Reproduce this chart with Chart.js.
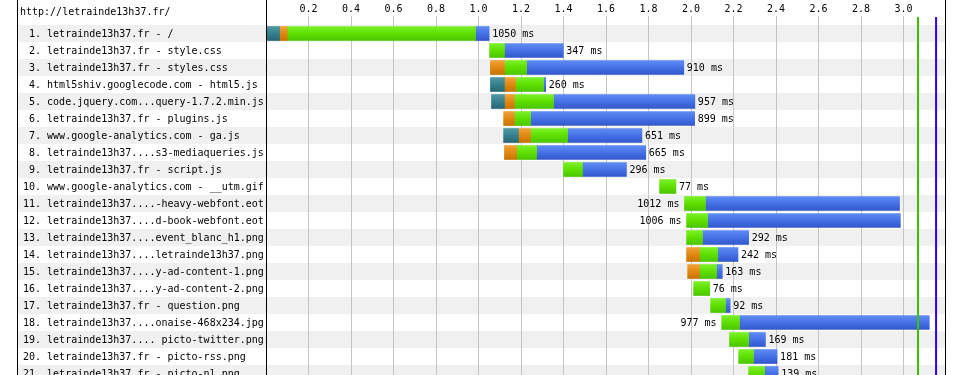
<!DOCTYPE html>
<html>
<head>
<meta charset="utf-8">
<script src="https://cdn.jsdelivr.net/npm/chart.js@4/dist/chart.umd.min.js"></script>
<style>
  html, body { margin: 0; padding: 0; background: #fff; overflow: hidden; }
  #wrap { width: 963px; height: 382px; }
</style>
</head>
<body>
<div id="wrap"><canvas id="waterfall" width="963" height="382"></canvas></div>
<script>
// page + requests
const pageUrl = 'http://letrainde13h37.fr/';
const requests = [
  'letrainde13h37.fr - /',
  'letrainde13h37.fr - style.css',
  'letrainde13h37.fr - styles.css',
  'html5shiv.googlecode.com - html5.js',
  'code.jquery.com...query-1.7.2.min.js',
  'letrainde13h37.fr - plugins.js',
  'www.google-analytics.com - ga.js',
  'letrainde13h37....s3-mediaqueries.js',
  'letrainde13h37.fr - script.js',
  'www.google-analytics.com - __utm.gif',
  'letrainde13h37....-heavy-webfont.eot',
  'letrainde13h37....d-book-webfont.eot',
  'letrainde13h37....event_blanc_h1.png',
  'letrainde13h37....letrainde13h37.png',
  'letrainde13h37....y-ad-content-1.png',
  'letrainde13h37....y-ad-content-2.png',
  'letrainde13h37.fr - question.png',
  'letrainde13h37....onaise-468x234.jpg',
  'letrainde13h37.... picto-twitter.png',
  'letrainde13h37.fr - picto-rss.png',
  'letrainde13h37.fr - picto-nl.png'
];

// phases in seconds, [start, end]
const dns = [
  [0, 0.064], null, null, [1.056, 1.122], [1.061, 1.122], null, [1.118, 1.188],
  null, null, null, null, null, null, null, null, null, null, null, null, null, null
];
const connect = [
  [0.064, 0.100], null, [1.056, 1.122], [1.122, 1.174], [1.122, 1.169], [1.118, 1.169], [1.188, 1.245],
  [1.122, 1.179], null, null, null, null, null, [1.979, 2.040], [1.984, 2.040], null, null, null, null, null, null
];
const ttfb = [
  [0.100, 0.986], [1.052, 1.122], [1.122, 1.226], [1.174, 1.306], [1.169, 1.353], [1.169, 1.245], [1.245, 1.419],
  [1.179, 1.273], [1.400, 1.489], [1.852, 1.929], [1.969, 2.068], [1.979, 2.078], [1.979, 2.054], [2.040, 2.125],
  [2.040, 2.120], [2.012, 2.088], [2.092, 2.162], [2.144, 2.228], [2.181, 2.271], [2.224, 2.294], [2.271, 2.346]
];
const download = [
  [0.986, 1.050], [1.122, 1.399], [1.226, 1.966], [1.306, 1.316], [1.353, 2.018], [1.245, 2.017], [1.419, 1.769],
  [1.273, 1.787], [1.489, 1.696], null, [2.068, 2.981], [2.078, 2.985], [2.054, 2.271], [2.125, 2.221],
  [2.120, 2.147], null, [2.162, 2.184], [2.228, 3.121], [2.271, 2.350], [2.294, 2.405], [2.346, 2.410]
];
const durations = [1050, 347, 910, 260, 957, 899, 651, 665, 296, 77, 1012, 1006, 292, 242, 163, 76, 92, 977, 169, 181, 139];

const startRender = 3.068;
const docComplete = 3.153;
const timeMax = 3.195;

const mono = 'DejaVu Sans Mono';
const rowLabels = requests.map((r, i) => String(i + 1).padStart(2, ' ') + '. ' + r);

function phaseFill(light, mid, dark) {
  return (c) => {
    const chart = c.chart;
    if (!chart.chartArea || !chart.scales.y) return mid;
    const yc = chart.scales.y.getPixelForValue(c.dataIndex);
    const g = chart.ctx.createLinearGradient(0, yc - 7, 0, yc + 7);
    g.addColorStop(0, light);
    g.addColorStop(0.5, mid);
    g.addColorStop(1, dark);
    return g;
  };
}

function phase(label, data, fill) {
  return {
    label: label,
    data: data,
    backgroundColor: fill,
    borderWidth: 0,
    barThickness: 14,
    grouped: false
  };
}

const frame = {
  id: 'frame',
  beforeDraw(chart) {
    const { ctx } = chart;
    const y = chart.scales.y;
    ctx.save();
    ctx.fillStyle = '#f0f0f0';
    rowLabels.forEach((_, i) => {
      if (i % 2 === 0) {
        const yc = y.getPixelForValue(i);
        ctx.fillRect(17, yc - 8.5, 945 - 17, 17);
      }
    });
    ctx.fillStyle = '#000';
    ctx.font = '10px ' + mono;
    ctx.textBaseline = 'middle';
    ctx.fillText(pageUrl, 20, 12);
    ctx.restore();
  },
  afterDatasetsDraw(chart) {
    const { ctx, chartArea } = chart;
    const x = chart.scales.x;
    const y = chart.scales.y;
    ctx.save();
    ctx.font = '10px ' + mono;
    ctx.fillStyle = '#000';
    ctx.textBaseline = 'middle';
    rowLabels.forEach((_, i) => {
      const parts = [dns[i], connect[i], ttfb[i], download[i]].filter(Boolean);
      const start = Math.min(...parts.map(p => p[0]));
      const end = Math.max(...parts.map(p => p[1]));
      const txt = durations[i] + ' ms';
      const w = ctx.measureText(txt).width;
      const yc = y.getPixelForValue(i) + 1;
      const tx = x.getPixelForValue(end) + 3;
      if (tx + w + 8 > chartArea.right) {
        ctx.textAlign = 'right';
        ctx.fillText(txt, x.getPixelForValue(start) - 5, yc);
      } else {
        ctx.textAlign = 'left';
        ctx.fillText(txt, tx, yc);
      }
    });
    // event markers
    ctx.lineWidth = 2;
    [[startRender, '#3cc000'], [docComplete, '#2a00ff']].forEach(([t, col]) => {
      const px = x.getPixelForValue(t);
      ctx.strokeStyle = col;
      ctx.beginPath();
      ctx.moveTo(px, 17);
      ctx.lineTo(px, chartArea.bottom);
      ctx.stroke();
    });
    // borders
    ctx.lineWidth = 1;
    ctx.strokeStyle = '#000';
    [17, 266, 945].forEach(bx => {
      ctx.beginPath();
      ctx.moveTo(bx + 0.5, 0);
      ctx.lineTo(bx + 0.5, chartArea.bottom);
      ctx.stroke();
    });
    ctx.restore();
  }
};

new Chart(document.getElementById('waterfall'), {
  type: 'bar',
  data: {
    labels: rowLabels,
    datasets: [
      phase('DNS', dns, phaseFill('#4f98a4', '#35808c', '#276873')),
      phase('Connect', connect, phaseFill('#f2a23a', '#e08812', '#c87400')),
      phase('TTFB', ttfb, phaseFill('#7cf02a', '#5de000', '#4cc600')),
      phase('Download', download, phaseFill('#5f8cf2', '#4571e6', '#3358cc'))
    ]
  },
  plugins: [frame],
  options: {
    indexAxis: 'y',
    responsive: false,
    animation: false,
    layout: { padding: { left: 23, right: 18, top: 0, bottom: 0 } },
    plugins: {
      legend: { display: false },
      tooltip: { enabled: false }
    },
    scales: {
      x: {
        position: 'top',
        min: 0,
        max: timeMax,
        afterFit(scale) {
          scale.height = 25;
          scale.paddingLeft = 0;
          scale.paddingRight = 0;
        },
        border: { display: false },
        grid: {
          color: (c) => (c.tick && Math.abs(c.tick.value) < 1e-9) ? 'rgba(0,0,0,0)' : '#c4c4c4',
          tickLength: 9
        },
        ticks: {
          stepSize: 0.2,
          includeBounds: false,
          padding: 1,
          maxRotation: 0,
          autoSkip: false,
          color: '#000',
          font: { family: mono, size: 10 },
          callback: (v) => Math.abs(v) < 1e-9 ? '' : Number(v).toFixed(1)
        }
      },
      y: {
        position: 'left',
        afterFit(scale) {
          scale.width = 243;
          scale.paddingTop = 0;
          scale.paddingBottom = 0;
        },
        border: { display: false },
        grid: { display: false },
        ticks: {
          crossAlign: 'far',
          labelOffset: 1,
          autoSkip: false,
          color: '#000',
          font: { family: mono, size: 10 }
        }
      }
    }
  }
});
</script>
</body>
</html>
